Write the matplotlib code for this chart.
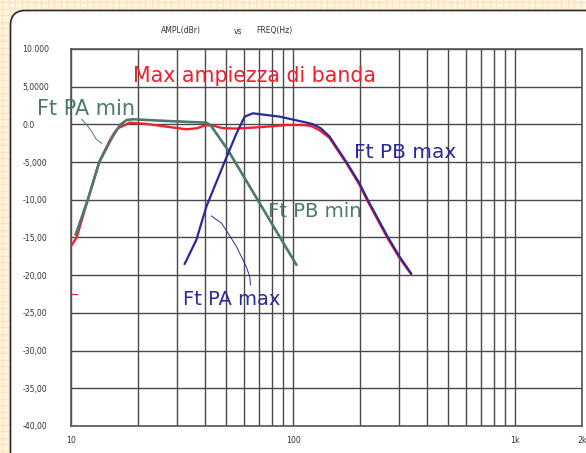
import numpy as np
import matplotlib
matplotlib.use("Agg")
import matplotlib.pyplot as plt
from matplotlib.patches import FancyBboxPatch

# ---------------- data ----------------
red_f = [10.07, 10.6, 11.9, 13.4, 14.97, 15.76, 16.3, 18.4, 22, 27, 33.1, 37, 40.7,
         44, 48.2, 55, 68.4, 80, 93.2, 110.3, 120.7, 132, 145.9, 173.4, 199, 216.8,
         266.6, 301, 339.8]
red_v = [-16.0, -15.0, -10.0, -5.0, -2.1, -1.0, -0.5, 0.23, 0.05, -0.3, -0.65, -0.5, -0.08,
         -0.2, -0.5, -0.55, -0.4, -0.25, -0.08, -0.08, -0.2, -0.8, -1.8, -5.1, -8.0, -10.2,
         -15.1, -17.7, -19.85]

teal_f = [10.5, 11.9, 13.4, 15.24, 16.6, 17.8, 19.0, 27, 40.7, 42.5, 50.9, 103.4]
teal_v = [-14.6, -10.0, -5.0, -1.85, -0.08, 0.58, 0.68, 0.45, 0.23, -0.1, -3.4, -18.6]

blue_f = [32.5, 36.7, 40.7, 49.2, 55.6, 60.5, 65.9, 86.9, 110.3, 122.4, 133, 145.9,
          173.4, 199, 216.8, 266.6, 301, 339.8]
blue_v = [-18.5, -15.3, -10.9, -4.95, -1.2, 1.03, 1.47, 1.03, 0.36, 0.05, -0.5, -1.6,
          -4.95, -7.8, -10.0, -14.9, -17.5, -19.75]

red_dash_f = [10.07, 10.6]
red_dash_v = [-22.5, -22.5]

pa_min_lead_f = [11.17, 11.8, 12.4, 13.0, 13.74]
pa_min_lead_v = [0.68, -0.1, -0.97, -1.98, -2.5]

pa_max_lead_f = [42.9, 47.6, 50.9, 55.6, 61.6, 63.8, 64.3]
pa_max_lead_v = [-12.15, -13.1, -14.4, -16.2, -18.9, -20.2, -21.3]

y_ticks = [10, 5, 0, -5, -10, -15, -20, -25, -30, -35, -40]
y_tick_labels = ["10.000", "5,0000", "0.0", "-5,000", "-10,00", "-15,00", "-20,00",
                 "-25,00", "-30,00", "-35,00", "-40,00"]
x_ticks = [10, 100, 1000, 2000]
x_tick_labels = ["10", "100", "1k", "2k"]
x_minor = [20, 30, 40, 50, 60, 70, 80, 90, 200, 300, 400, 500, 600, 700, 800, 900]

RED = "#f2202c"
TEAL = "#4d7870"
NAVY = "#2a2a98"
GRID = "#484848"
TXT = "#333333"

# ---------------- figure ----------------
W, H = 586, 453
fig = plt.figure(figsize=(W / 100, H / 100), dpi=100)
fig.patch.set_facecolor("#fff6e2")

# background pattern and white panel (pixel coords)
bg = fig.add_axes([0, 0, 1, 1])
bg.set_zorder(-5)
bg.set_xlim(0, W)
bg.set_ylim(H, 0)
bg.axis("off")
for gx in np.arange(2, W, 6.5):
    bg.axvline(gx, color="#fde3b8", lw=0.9, zorder=1)
for gy in np.arange(2, H, 6.5):
    bg.axhline(gy, color="#fde3b8", lw=0.9, zorder=1)
panel = FancyBboxPatch((10.5, 10.5), 620, 470, boxstyle="round,pad=0,rounding_size=15",
                       facecolor="white", edgecolor="#2a2a2a", lw=1.2, zorder=10)
bg.add_patch(panel)

ax = fig.add_axes([71 / W, 1 - 426 / H, (582 - 71) / W, (426 - 49) / H])
ax.set_facecolor("white")
ax.set_xscale("log")
ax.set_xlim(10, 2000)
ax.set_ylim(-40, 10)

ax.set_xticks(x_ticks)
ax.set_xticklabels(x_tick_labels)
ax.set_xticks(x_minor, minor=True)
ax.set_xticklabels([], minor=True)
ax.set_yticks(y_ticks)
ax.set_yticklabels(y_tick_labels, ha="left")
ax.tick_params(axis="both", which="both", length=0, labelsize=5.6, labelcolor=TXT)
ax.tick_params(axis="y", pad=35)
ax.tick_params(axis="x", pad=7)
ax.grid(True, which="both", color=GRID, lw=1.0)
for s in ax.spines.values():
    s.set_color("#555555")
    s.set_linewidth(1.2)

# curves
ax.plot(red_f, red_v, color=RED, lw=1.7, zorder=3)
ax.plot(teal_f, teal_v, color=TEAL, lw=1.9, zorder=4)
ax.plot(blue_f, blue_v, color=NAVY, lw=1.6, zorder=5)
ax.plot(red_dash_f, red_dash_v, color=RED, lw=0.9, zorder=3)
ax.plot(pa_min_lead_f, pa_min_lead_v, color=TEAL, lw=0.7, zorder=4)
ax.plot(pa_max_lead_f, pa_max_lead_v, color=NAVY, lw=0.7, zorder=5)

# annotations
ax.text(19.0, 5.62, "Max ampiezza di banda", color=RED, fontsize=14.8, va="baseline", ha="left", zorder=6)
ax.text(7.03, 1.25, "Ft PA min", color=TEAL, fontsize=15, va="baseline", ha="left", zorder=6, clip_on=False)
ax.text(188.8, -4.46, "Ft PB max", color=NAVY, fontsize=14.5, va="baseline", ha="left", zorder=6)
ax.text(76.8, -12.28, "Ft PB min", color=TEAL, fontsize=14.2, va="baseline", ha="left", zorder=6)
ax.text(31.8, -23.95, "Ft PA max", color=NAVY, fontsize=14.0, va="baseline", ha="left", zorder=6)

# header
ty = 1 - 31 / H
fig.text(161 / W, ty, "AMPL(dBr)", fontsize=5.5, color=TXT, va="center", ha="left")
fig.text(234 / W, ty, "vs", fontsize=5.5, color=TXT, va="center", ha="left")
fig.text(256 / W, ty, "FREQ(Hz)", fontsize=5.5, color=TXT, va="center", ha="left")

fig.savefig("out.png", dpi=100, facecolor=fig.get_facecolor())
